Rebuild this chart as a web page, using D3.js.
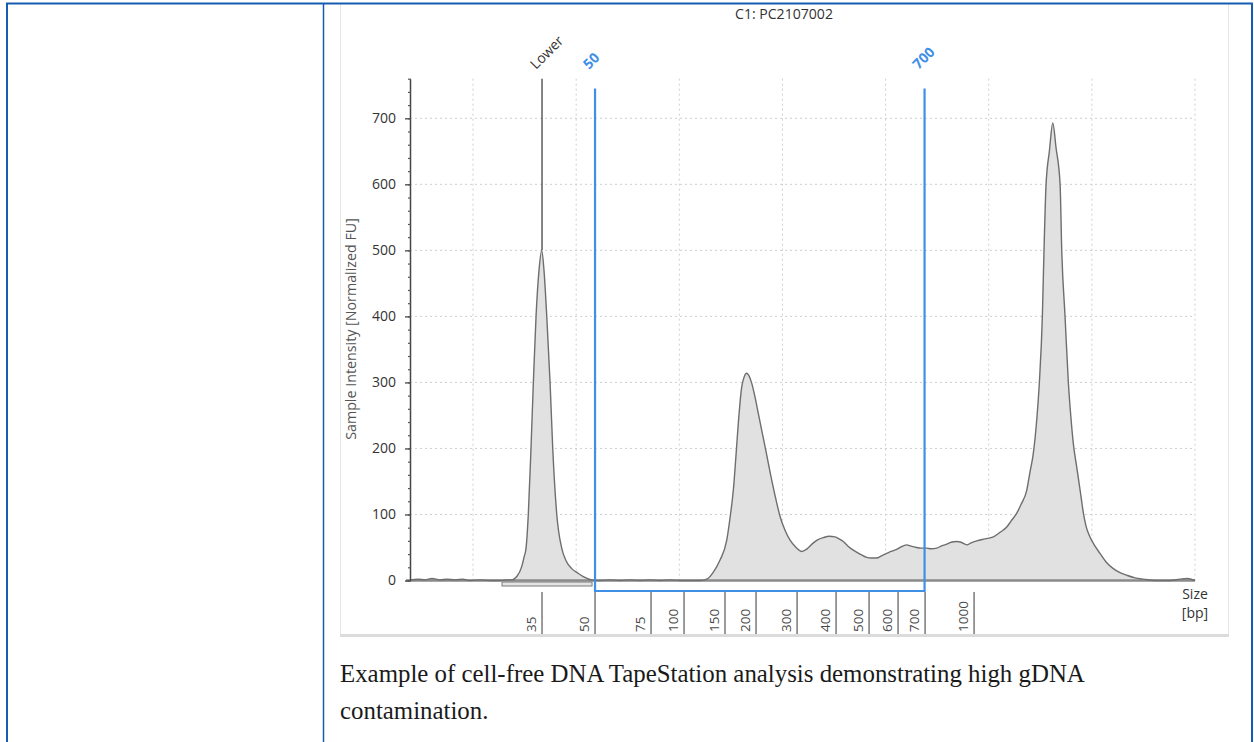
<!DOCTYPE html>
<html>
<head>
<meta charset="utf-8">
<script src="https://cdn.jsdelivr.net/npm/d3@7"></script>
<style>
  body { margin: 0; background: #fff; }
  svg { display: block; }
</style>
</head>
<body>
<div id="chart"></div>
<script>
// Electropherogram trace: migration position (arbitrary units) and intensity (normalized FU)
const tracePos = [3.89, 4.67, 5.35, 6.02, 6.80, 7.48, 8.25, 9.03, 9.71, 10.68, 11.65, 12.62, 13.39, 13.78,
  14.24, 14.72, 14.94, 15.14, 15.36, 15.62, 15.85, 16.11, 16.40, 16.66, 16.88, 17.15, 17.47, 17.73, 18.12,
  18.60, 19.02, 19.57, 20.18, 20.69, 21.51, 22.31, 23.28, 24.25, 25.22, 26.19, 27.16, 28.13, 29.10, 30.07,
  31.04, 32.01, 32.66, 33.27, 33.95, 34.60, 34.92, 35.24, 35.50, 35.72, 36.05, 36.28, 36.54, 36.76, 37.02,
  37.34, 37.66, 38.31, 38.96, 39.38, 39.77, 40.25, 40.74, 41.32, 41.87, 42.39, 43.00, 43.45, 43.97, 44.52,
  45.10, 45.49, 45.90, 46.36, 46.87, 47.52, 48.17, 48.59, 49.14, 49.56, 50.11, 50.53, 51.08, 51.50, 52.05,
  52.47, 53.02, 53.44, 53.99, 54.41, 54.96, 55.38, 55.93, 56.35, 56.90, 57.32, 57.87, 58.29, 58.84, 59.64,
  60.45, 61.10, 61.75, 62.16, 62.72, 63.13, 63.69, 64.01, 64.30, 64.49, 64.69, 64.91, 65.20, 65.36, 65.56,
  65.88, 66.21, 66.53, 66.92, 67.08, 67.40, 67.72, 67.98, 68.22, 68.47, 68.69, 68.95, 69.18, 69.44, 69.82,
  70.31, 70.79, 71.38, 72.08, 72.73, 73.38, 74.19, 74.99, 76.13, 77.58, 78.55, 79.23, 80.0];
const traceFU = [1, 2, 1, 3, 1, 2, 1, 2, 0, 1, 0, 0, 1, 1,
  6, 21, 35, 49, 100, 200, 300, 400, 470, 500, 470, 400, 300, 200, 100,
  49, 30, 18, 11, 6, 1, 0, 1, 0, 1, 0, 1, 0, 1, 0,
  0, 0, 2, 12, 31, 61, 95, 137, 190, 238, 293, 308, 314, 310, 299,
  278, 253, 203, 152, 122, 97, 76, 61, 50, 44, 48, 57, 62, 65, 67,
  66, 63, 59, 52, 46, 40, 35, 34, 34, 37, 41, 44, 47, 51, 54,
  52, 50, 49, 49, 48, 49, 52, 55, 58, 59, 58, 54, 57, 60, 63,
  66, 73, 81, 90, 102, 115, 137, 165, 190, 215, 250, 300, 400, 500, 600,
  650, 693, 655, 600, 500, 400, 300, 245, 205, 178, 155, 127, 102, 82, 66,
  52, 41, 28, 18, 12, 8, 4, 2, 0, 0, 2, 3, 0];

// Ladder: fragment sizes and their migration positions
const ladderBp = [35, 50, 75, 100, 150, 200, 300, 400, 500, 600, 700, 1000];
const ladderPos = [16.69, 21.83, 27.26, 30.46, 34.43, 37.44, 41.42, 45.20, 48.40, 51.21, 53.83, 58.58];

// Region of interest (blue bracket) and lower marker
const regionLabels = ["50", "700"];
const regionPos = [21.83, 53.78];
const regionTop = 745;
const markerLabels = ["Lower"];
const markerPos = [16.69];
const markerRange = [12.81, 21.54];

const yTicks = [0, 100, 200, 300, 400, 500, 600, 700];
const yMinor = d3.range(0, 761, 20);
const gridPos = [10, 20, 30, 40, 50, 60, 70, 80];

const title = "C1: PC2107002";
const yTitle = "Sample Intensity [Normalized FU]";
const xTitle = ["Size", "[bp]"];
const caption = ["Example of cell-free DNA TapeStation analysis demonstrating high gDNA", "contamination."];

const W = 1254, H = 742;
const svg = d3.select("#chart").append("svg")
  .attr("width", W)
  .attr("height", H);

// shrink or grow a text so it spans a given width
function fitText(sel, size, target) {
  sel.style("font-size", size + "px");
  const w = sel.node().getComputedTextLength();
  const fs = size * target / w;
  sel.style("font-size", fs + "px");
  return fs;
}

// Image frame
svg.append("rect")
  .attr("x", 340.5).attr("y", 3.5)
  .attr("width", 888).attr("height", 631)
  .attr("fill", "#fff")
  .attr("stroke", "#e6e6e6");
svg.append("line")
  .attr("x1", 340).attr("x2", 1229)
  .attr("y1", 635.5).attr("y2", 635.5)
  .attr("stroke", "#dcdcdc").attr("stroke-width", 3);

// Scales
const x = d3.scaleLinear().domain([3.89, 80]).range([410, 1195]);
const y = d3.scaleLinear().domain([0, 760]).range([580.5, 78.7]);
const y0 = y(0);

// Grid
const grid = svg.append("g")
  .attr("stroke", "#cfcfcf")
  .attr("stroke-dasharray", "2,3");
grid.selectAll(".hgrid")
  .data(yTicks.filter(d => d > 0))
  .enter().append("line")
  .attr("x1", x(3.89)).attr("x2", x(80))
  .attr("y1", d => y(d)).attr("y2", d => y(d));
grid.selectAll(".vgrid")
  .data(gridPos)
  .enter().append("line")
  .attr("x1", d => x(d)).attr("x2", d => x(d))
  .attr("y1", y(760)).attr("y2", y0);

// Title
const tt = svg.append("text")
  .attr("x", 784).attr("y", 19)
  .attr("text-anchor", "middle")
  .attr("font-family", "'Open Sans', sans-serif")
  .attr("fill", "#333")
  .text(title);
fitText(tt, 13, 98);

// Trace
const trace = tracePos.map((p, i) => ({ p, v: traceFU[i] }));
svg.append("path")
  .datum(trace)
  .attr("fill", "#e1e1e1")
  .attr("d", d3.area().x(d => x(d.p)).y0(y0).y1(d => y(d.v)).curve(d3.curveMonotoneX));

// Lower marker integration bracket
svg.append("rect")
  .attr("x", x(markerRange[0])).attr("y", y0 + 1.5)
  .attr("width", x(markerRange[1]) - x(markerRange[0])).attr("height", 4)
  .attr("fill", "#e4e4e4")
  .attr("stroke", "#7a7a7a").attr("stroke-width", 1);

// Baseline
svg.append("line")
  .attr("x1", x(3.89) - 4).attr("x2", x(80))
  .attr("y1", y0).attr("y2", y0)
  .attr("stroke", "#8a8a8a").attr("stroke-width", 2.5);

svg.append("path")
  .datum(trace)
  .attr("fill", "none")
  .attr("stroke", "#6e6e6e")
  .attr("stroke-width", 1.4)
  .attr("d", d3.line().x(d => x(d.p)).y(d => y(d.v)).curve(d3.curveMonotoneX));

// Lower marker line
svg.selectAll(".marker")
  .data(markerPos)
  .enter().append("line")
  .attr("x1", d => x(d)).attr("x2", d => x(d))
  .attr("y1", y(760)).attr("y2", y(500))
  .attr("stroke", "#333").attr("stroke-width", 1.2);
svg.selectAll(".markerLabel")
  .data(markerLabels)
  .enter().append("text")
  .attr("transform", (d, i) => `translate(${x(markerPos[i]) - 6}, 70) rotate(-45)`)
  .attr("font-family", "'Open Sans', sans-serif")
  .attr("fill", "#333")
  .style("font-size", "14px")
  .text(d => d);

// Y axis
const yAxis = svg.append("g")
  .attr("transform", `translate(${x(3.89)}, 0)`)
  .call(d3.axisLeft(y).tickValues(yTicks).tickSize(5).tickSizeOuter(0).tickPadding(9));
yAxis.select(".domain").attr("stroke", "#444").attr("stroke-width", 1.5);
yAxis.selectAll(".tick line").attr("stroke", "#444").attr("stroke-width", 1.3);
yAxis.selectAll(".tick text")
  .attr("font-family", "'Open Sans', sans-serif")
  .attr("fill", "#333")
  .style("font-size", "14px");
svg.append("g")
  .attr("transform", `translate(${x(3.89) + 1}, 0)`)
  .call(d3.axisLeft(y).tickValues(yMinor).tickSize(3).tickSizeOuter(0).tickFormat(""))
  .call(g => g.select(".domain").remove())
  .selectAll(".tick line").attr("stroke", "#555").attr("stroke-width", 1.2);

// Y axis title
const yt = svg.append("text")
  .attr("transform", "translate(356, 329) rotate(-90)")
  .attr("text-anchor", "middle")
  .attr("font-family", "'Open Sans', sans-serif")
  .attr("fill", "#555")
  .text(yTitle);
fitText(yt, 12, 222);

// Ladder ticks and labels
const ladder = svg.append("g");
ladder.selectAll("line")
  .data(ladderPos)
  .enter().append("line")
  .attr("x1", d => x(d)).attr("x2", d => x(d))
  .attr("y1", y0 + 11.5).attr("y2", 634)
  .attr("stroke", "#666").attr("stroke-width", 1.3);
ladder.selectAll("text")
  .data(ladderBp)
  .enter().append("text")
  .attr("transform", (d, i) => `translate(${x(ladderPos[i]) - 6}, 632) rotate(-90)`)
  .attr("font-family", "'Open Sans', sans-serif")
  .attr("fill", "#4a4a4a")
  .style("font-size", "13.5px")
  .text(d => d);

// Region of interest bracket
svg.append("path")
  .attr("d", `M${x(regionPos[0])},${y(regionTop)} V${y0 + 10.5} H${x(regionPos[1])} V${y(regionTop)}`)
  .attr("fill", "none")
  .attr("stroke", "#3f8fe6")
  .attr("stroke-width", 2.2);
svg.selectAll(".regionLabel")
  .data(regionLabels)
  .enter().append("text")
  .attr("transform", (d, i) => `translate(${x(regionPos[i]) - 6}, 70) rotate(-45)`)
  .attr("font-family", "'Open Sans', sans-serif")
  .attr("font-weight", "bold")
  .attr("fill", "#3f8fe6")
  .style("font-size", "14px")
  .text(d => d);

// X axis title
svg.selectAll(".xTitle")
  .data(xTitle)
  .enter().append("text")
  .attr("x", 1195)
  .attr("y", (d, i) => 599 + i * 19)
  .attr("text-anchor", "middle")
  .attr("font-family", "'Open Sans', sans-serif")
  .attr("fill", "#333")
  .style("font-size", "14px")
  .text(d => d);

// Caption
const capLines = svg.selectAll(".caption")
  .data(caption)
  .enter().append("text")
  .attr("class", "caption")
  .attr("x", 340)
  .attr("y", (d, i) => 682 + i * 37)
  .attr("font-family", "'Liberation Serif', serif")
  .attr("fill", "#1a1a1a")
  .text(d => d);
const capSize = fitText(d3.select(capLines.nodes()[0]), 24, 745);
capLines.style("font-size", capSize + "px");

// Table borders
const border = svg.append("g").attr("stroke", "#175cb0");
border.append("line").attr("x1", 6).attr("x2", 1253).attr("y1", 3.5).attr("y2", 3.5).attr("stroke-width", 2);
border.append("line").attr("x1", 7).attr("x2", 7).attr("y1", 3).attr("y2", H).attr("stroke-width", 2);
border.append("line").attr("x1", 323.5).attr("x2", 323.5).attr("y1", 3).attr("y2", H).attr("stroke-width", 1.5);
border.append("line").attr("x1", 1252).attr("x2", 1252).attr("y1", 3).attr("y2", H).attr("stroke-width", 2);
</script>
</body>
</html>
